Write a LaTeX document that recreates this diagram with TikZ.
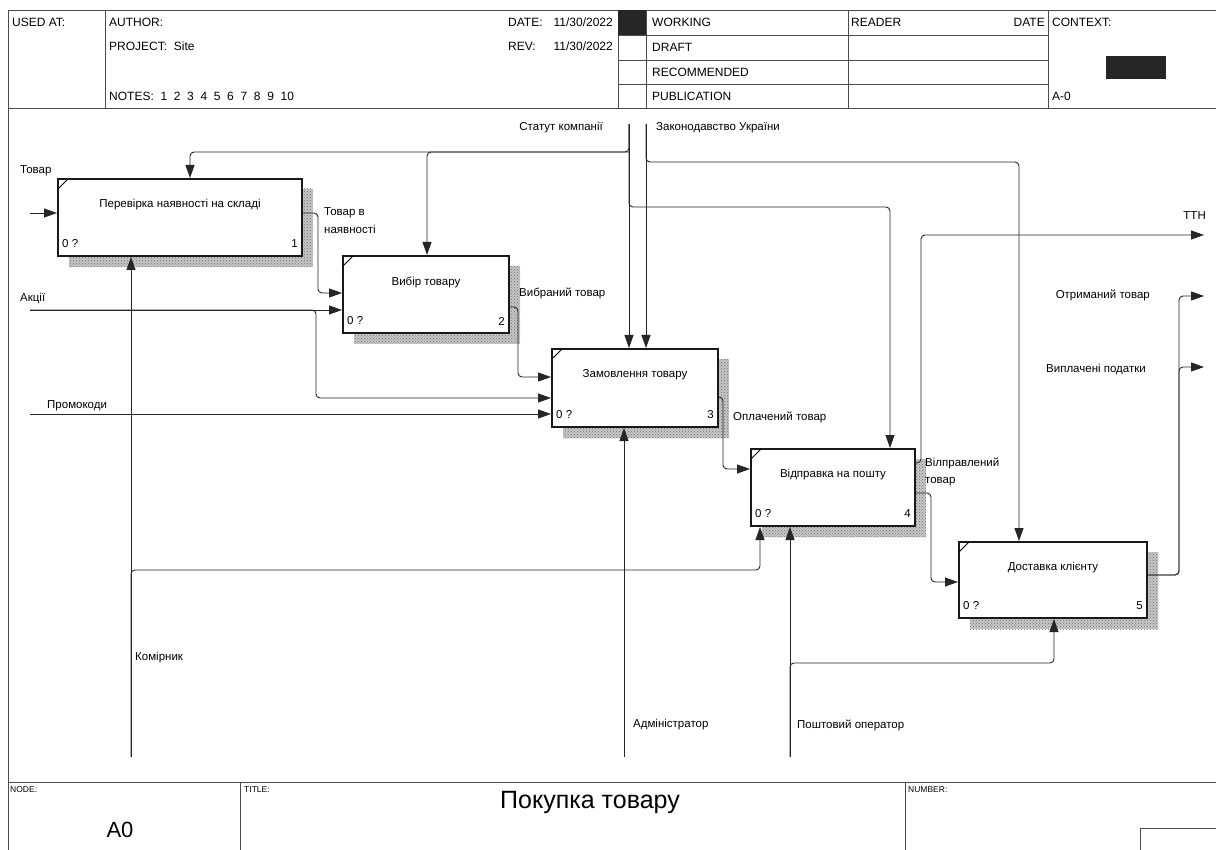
\documentclass[tikz,border=0pt]{standalone}
\usepackage{fontspec}
\setmainfont{Liberation Sans}
\usetikzlibrary{arrows.meta,patterns,calc,backgrounds}
\begin{document}
\begin{tikzpicture}[x=1pt,y=-1pt,font=\fontsize{11.5}{13}\selectfont,
  fnbox/.style={draw=black!90, line width=2pt, fill=white, inner sep=0pt},
  shadowfill/.style={preaction={fill=gray!45}, pattern=crosshatch dots, pattern color=black!55},
  conn/.style={draw=black!85, line width=0.9pt, rounded corners=4pt},
  arr/.style={-{Triangle[length=13pt,width=9pt]}},
  lbl/.style={inner sep=0pt, anchor=west},
  hdr/.style={inner sep=0pt, anchor=west, font=\fontsize{12}{14}\selectfont},
  hline/.style={draw=black!70, line width=0.8pt},
  small/.style={inner sep=0pt, anchor=west, font=\fontsize{8.5}{10}\selectfont}]
\useasboundingbox (0,0) rectangle (1216,850);

% ---------- header frame ----------
\draw[hline] (8,10) -- (1216,10);
\draw[hline] (8,108) -- (1216,108);
\draw[hline] (8,10) -- (8,850);
\draw[hline] (105,10) -- (105,108);
\draw[hline] (618,10) -- (618,108);
\draw[hline] (646,10) -- (646,108);
\draw[hline] (848,10) -- (848,108);
\draw[hline] (1048,10) -- (1048,108);
\draw[hline] (618,35) -- (1048,35);
\draw[hline] (618,60) -- (1048,60);
\draw[hline] (618,84) -- (1048,84);
\fill[black!85] (618,10) rectangle (646,35);
\fill[black!85] (1106,56) rectangle (1166,79);

\node[hdr] (usedat) at (12,22) {USED AT:};
\node[hdr] (author) at (109,22) {AUTHOR:};
\node[hdr] (project) at (109,46) {PROJECT:\ \ Site};
\node[hdr] (notes) at (109,96) {NOTES:\ \ 1\ \ 2\ \ 3\ \ 4\ \ 5\ \ 6\ \ 7\ \ 8\ \ 9\ \ 10};
\node[hdr] (datek) at (508,22) {DATE:};
\node[hdr, anchor=east] (datev) at (613,22) {11/30/2022};
\node[hdr] (revk) at (508,46) {REV:};
\node[hdr, anchor=east] (revv) at (613,46) {11/30/2022};
\node[hdr] (working) at (652,22) {WORKING};
\node[hdr] (draft) at (652,47) {DRAFT};
\node[hdr] (recom) at (652,72) {RECOMMENDED};
\node[hdr] (publ) at (652,96) {PUBLICATION};
\node[hdr] (reader) at (851,22) {READER};
\node[hdr, anchor=east] (rdate) at (1045,22) {DATE};
\node[hdr] (context) at (1052,22) {CONTEXT:};
\node[hdr] (aminus) at (1052,96) {A-0};

% ---------- footer frame ----------
\draw[hline] (8,782) -- (1216,782);
\draw[hline] (240,782) -- (240,850);
\draw[hline] (905,782) -- (905,850);
\draw[hline] (1140,850) -- (1140,828) -- (1216,828);
\node[small] (nodek) at (10,790) {NODE:};
\node[small] (titlek) at (244,790) {TITLE:};
\node[small] (numberk) at (908,790) {NUMBER:};
\node[inner sep=0pt, font=\fontsize{25}{28}\selectfont] (title) at (590,802) {Покупка товару};
\node[inner sep=0pt, font=\fontsize{22}{26}\selectfont] (nodeA0) at (120,830) {A0};

% ---------- function boxes ----------
\node[fnbox, minimum width=244pt, minimum height=77pt] (b1) at (180,217.5) {};
\node[fnbox, minimum width=166pt, minimum height=77pt] (b2) at (426,294.5) {};
\node[fnbox, minimum width=166pt, minimum height=78pt] (b3) at (635,388) {};
\node[fnbox, minimum width=164pt, minimum height=77pt] (b4) at (833,487.5) {};
\node[fnbox, minimum width=188pt, minimum height=76pt] (b5) at (1053,580) {};

\begin{scope}[on background layer]
\fill[white] (0,0) rectangle (1216,850);
\foreach \b in {b1,b2,b3,b4,b5}{
  \path[shadowfill] ($(\b.north west)+(12,11)$) rectangle ($(\b.south east)+(10,10)$);
}
\end{scope}

\foreach \b/\n/\t in {b1/1/{Перевірка наявності на складі}, b2/2/{Вибір товару}, b3/3/{Замовлення товару}, b4/4/{Відправка на пошту}, b5/5/{Доставка клієнту}}{
  \draw[line width=1pt] ($(\b.north west)+(1,11)$) -- ($(\b.north west)+(11,1)$);
  \node[inner sep=0pt] (\b t) at ($(\b.north)+(0,27)$) {\t};
  \node[lbl] (\b z) at ($(\b.south west)+(5,-13)$) {0 ?};
  \node[lbl, anchor=east] (\b n) at ($(\b.south east)+(-5,-13)$) {\n};
}

% ---------- connectors ----------
\coordinate (tovIn) at (30,213);
\draw[conn,arr] (tovIn) -- (tovIn -| b1.west);

\coordinate (stTop) at (629,124);
\draw[conn,arr] (stTop) -- (stTop |- b3.north);
\draw[conn,arr] (stTop) -- (629,152) -- (190,152) -- (190,0 |- b1.north);
\draw[conn,arr] (629,152) -- (427,152) -- (427,0 |- b2.north);
\draw[conn,arr] (stTop) -- (629,207) -- (890,207) -- (890,0 |- b4.north);

\coordinate (zkTop) at (646,124);
\draw[conn,arr] (zkTop) -- (zkTop |- b3.north);
\draw[conn,arr] (zkTop) -- (646,162) -- (1019,162) -- (1019,0 |- b5.north);

\draw[conn,arr] (b1.east |- 0,213) -- (318,213) -- (318,293) -- (b2.west |- 0,293);

\coordinate (akIn) at (30,310);
\draw[conn,arr] (akIn) -- (akIn -| b2.west);
\draw[conn,arr] (akIn) -- (316,310) -- (316,398) -- (b3.west |- 0,398);

\coordinate (prIn) at (30,414);
\draw[conn,arr] (prIn) -- (prIn -| b3.west);

\draw[conn,arr] (b2.east |- 0,307) -- (518,307) -- (518,377) -- (b3.west |- 0,377);
\draw[conn,arr] (b3.east |- 0,397) -- (723,397) -- (723,469) -- (b4.west |- 0,469);

\coordinate (tthOut) at (1204,235);
\draw[conn,arr] (b4.east |- 0,463) -- (921,463) -- (921,235) -- (tthOut);
\draw[conn,arr] (b4.east |- 0,493) -- (931,493) -- (931,582) -- (b5.west |- 0,582);

\coordinate (recOut) at (1204,296);
\coordinate (taxOut) at (1204,367);
\draw[conn,arr] (b5.east |- 0,575) -- (1179,575) -- (1179,296) -- (recOut);
\draw[conn,arr] (b5.east |- 0,575) -- (1179,575) -- (1179,367) -- (taxOut);

\coordinate (komBot) at (131,757);
\draw[conn,arr] (komBot) -- (komBot |- b1.south);
\draw[conn,arr] (komBot) -- (131,570) -- (760,570) -- (760,0 |- b4.south);

\coordinate (admBot) at (624,757);
\draw[conn,arr] (admBot) -- (admBot |- b3.south);

\coordinate (postBot) at (790,757);
\draw[conn,arr] (postBot) -- (postBot |- b4.south);
\draw[conn,arr] (postBot) -- (790,663) -- (1054,663) -- (1054,0 |- b5.south);

% ---------- arrow labels ----------
\node[lbl] (lTovar) at (20,171) {Товар};
\node[lbl] (lAkcii) at (20,298) {Акції};
\node[lbl] (lPromo) at (47,406) {Промокоди};
\node[lbl, anchor=north west, align=left, font=\fontsize{11.5}{18}\selectfont] (lNayav) at (324,207) {Товар в\\наявності};
\node[lbl] (lVybr) at (519,293) {Вибраний товар};
\node[lbl] (lOplach) at (733,417) {Оплачений товар};
\node[lbl, anchor=north west, align=left, font=\fontsize{11.5}{17}\selectfont] (lVidpr) at (925,458) {Вілправлений\\товар};
\node[lbl, anchor=east] (lTTN) at (1206,216) {ТТН};
\node[lbl, anchor=east] (lOtrym) at (1150,295) {Отриманий товар};
\node[lbl, anchor=east] (lPodat) at (1146,369) {Виплачені податки};
\node[lbl, anchor=east] (lStatut) at (603,128) {Статут компанії};
\node[lbl] (lZakon) at (656,128) {Законодавство України};
\node[lbl] (lKomir) at (135,658) {Комірник};
\node[lbl] (lAdmin) at (633,725) {Адміністратор};
\node[lbl] (lPosht) at (797,725) {Поштовий оператор};
\end{tikzpicture}
\end{document}
